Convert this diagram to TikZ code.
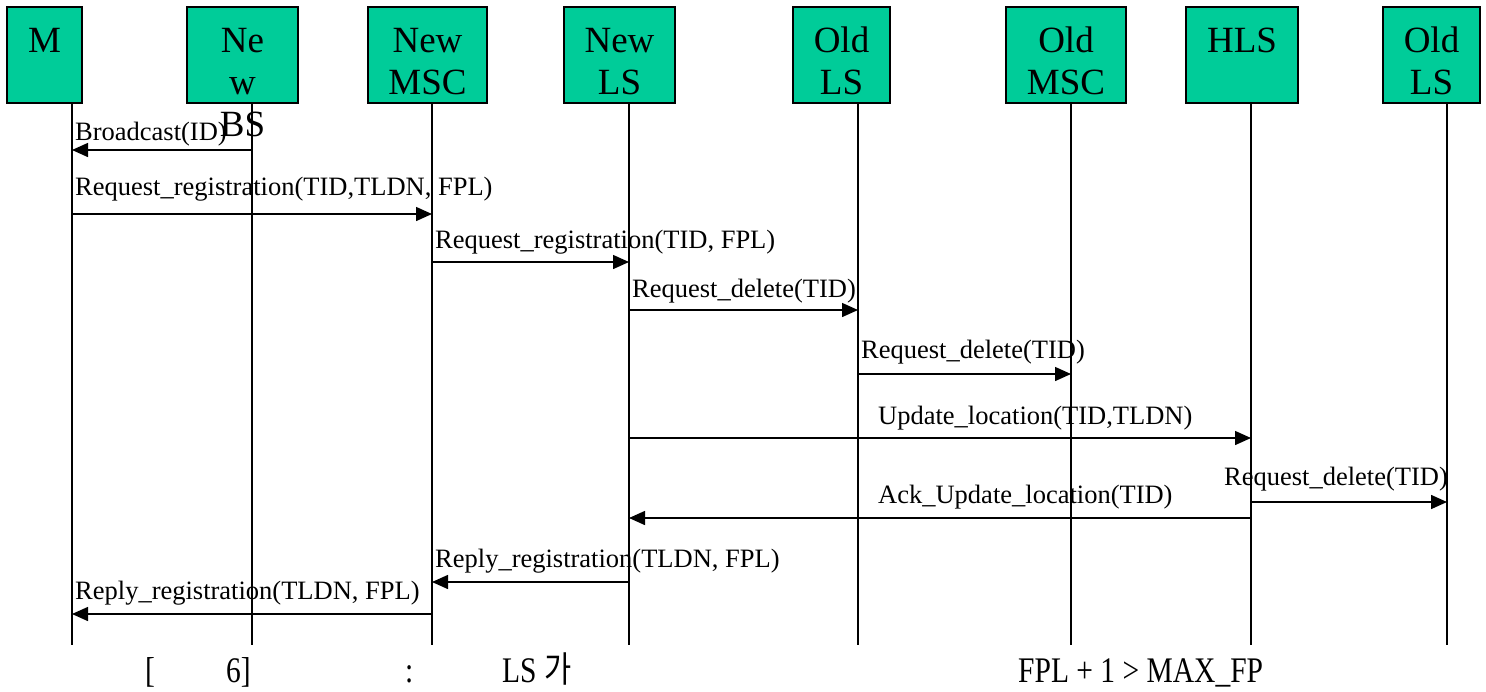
\documentclass[tikz,border=0pt]{standalone}
\usepackage{fontspec}
\setmainfont{Liberation Serif}
\newfontfamily\krfont{Noto Sans CJK KR}
\usetikzlibrary{positioning}
\usetikzlibrary{arrows.meta}
\definecolor{boxgreen}{RGB}{0,204,153}
\newcommand{\capbox}[1]{\scalebox{0.82}[1]{#1}}
\tikzset{
  entity/.style={draw=black,line width=2pt,fill=boxgreen,anchor=north west,inner sep=0pt,minimum height=96pt},
  boxtxt/.style={anchor=base,inner sep=0pt,align=center,font=\fontsize{37}{42}\selectfont},
  life/.style={line width=1.5pt},
  msg/.style={line width=1.5pt,-{Triangle[length=16pt,width=14pt]}},
  lbl/.style={anchor=base west,inner sep=0pt,font=\fontsize{26.5}{30}\selectfont},
  captxt/.style={anchor=base west,inner sep=0pt,font=\fontsize{36}{40}\selectfont}
}

\begin{document}
\begin{tikzpicture}[x=1pt,y=-1pt]
 \useasboundingbox (0,0) rectangle (1486,691);
 % entities
 \node[entity,minimum width=75pt] (mBox) at (6,6) {};
 \node[entity,minimum width=111pt] (newbsBox) at (186,6) {};
 \node[entity,minimum width=119pt] (newmscBox) at (367,6) {};
 \node[entity,minimum width=111pt] (newlsBox) at (563,6) {};
 \node[entity,minimum width=97pt] (oldlsBox) at (792,6) {};
 \node[entity,minimum width=120pt] (oldmscBox) at (1005,6) {};
 \node[entity,minimum width=112pt] (hlsBox) at (1185,6) {};
 \node[entity,minimum width=97pt] (oldlsbBox) at (1382,6) {};
 % base = last line
 \path (mBox.north) ++(0,46) node[boxtxt] (mTxt) {M};
 \path (newbsBox.north) ++(0,130) node[boxtxt] (newbsTxt) {Ne\\w\\BS};
 \path (newmscBox.north) ++(0,88) node[boxtxt] (newmscTxt) {New\\MSC};
 \path (newlsBox.north) ++(0,88) node[boxtxt] (newlsTxt) {New\\LS};
 \path (oldlsBox.north) ++(0,88) node[boxtxt] (oldlsTxt) {Old\\LS};
 \path (oldmscBox.north) ++(0,88) node[boxtxt] (oldmscTxt) {Old\\MSC};
 \path (hlsBox.north) ++(0,46) node[boxtxt] (hlsTxt) {HLS};
 \path (oldlsbBox.north) ++(0,88) node[boxtxt] (oldlsbTxt) {Old\\LS};

 % lifelines
 \coordinate (m) at (72,102);
 \coordinate (newbs) at (252,102);
 \coordinate (newmsc) at (432,102);
 \coordinate (newls) at (629,102);
 \coordinate (oldls) at (858,102);
 \coordinate (oldmsc) at (1071,102);
 \coordinate (hls) at (1251,102);
 \coordinate (oldlsb) at (1447,102);
 \foreach \l in {m,newbs,newmsc,newls,oldls,oldmsc,hls,oldlsb}
   \draw[life] (\l) -- (\l|-0,645);

 % messages
 \draw[msg] (newbs|-0,150) -- (m|-0,150);
 \node[lbl] (l1) at (75,140) {Broadcast(ID)};
 \draw[msg] (m|-0,214) -- (newmsc|-0,214);
 \node[lbl] (l2) at (75,195) {Request\_registration(TID,TLDN, FPL)};
 \draw[msg] (newmsc|-0,262) -- (newls|-0,262);
 \node[lbl] (l3) at (435,248) {Request\_registration(TID, FPL)};
 \draw[msg] (newls|-0,310) -- (oldls|-0,310);
 \node[lbl] (l4) at (632,297) {Request\_delete(TID)};
 \draw[msg] (oldls|-0,374) -- (oldmsc|-0,374);
 \node[lbl] (l5) at (861,358) {Request\_delete(TID)};
 \draw[msg] (newls|-0,438) -- (hls|-0,438);
 \node[lbl] (l6) at (878,424) {Update\_location(TID,TLDN)};
 \draw[msg] (hls|-0,502) -- (oldlsb|-0,502);
 \node[lbl] (l7) at (1224,485) {Request\_delete(TID)};
 \draw[msg] (hls|-0,518) -- (newls|-0,518);
 \node[lbl] (l8) at (878,503) {Ack\_Update\_location(TID)};
 \draw[msg] (newls|-0,582) -- (newmsc|-0,582);
 \node[lbl] (l9) at (435,567) {Reply\_registration(TLDN, FPL)};
 \draw[msg] (newmsc|-0,614) -- (m|-0,614);
 \node[lbl] (l10) at (75,599) {Reply\_registration(TLDN, FPL)};

 % caption
 \node[captxt] (c1) at (145,682) {\capbox{[}};
 \node[captxt] (c2) at (226,682) {\capbox{6]}};
 \node[captxt] (c3) at (405,682) {\capbox{:}};
 \node[captxt] (c4) at (502,682) {\capbox{LS {\krfont 가}}};
 \node[captxt] (c5) at (1018,682) {\capbox{FPL + 1 > MAX\_FP}};
\end{tikzpicture}
\end{document}
